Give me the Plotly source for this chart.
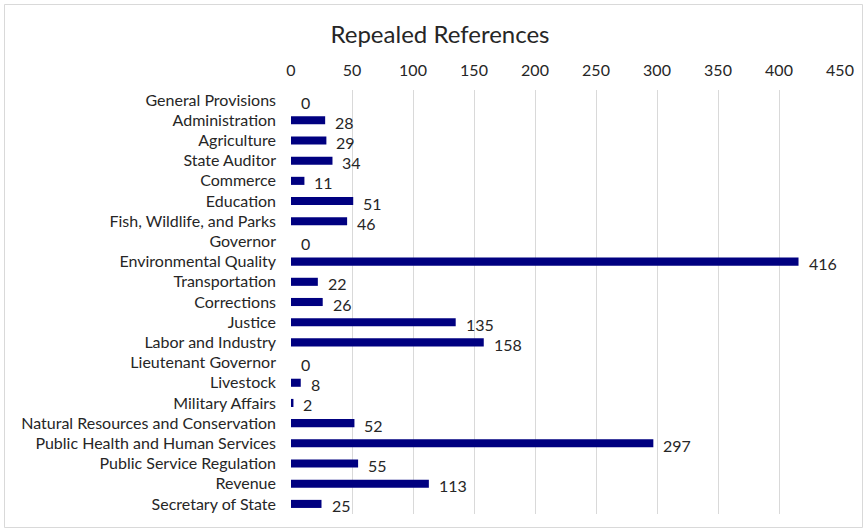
import plotly.graph_objects as go

categories = ["General Provisions", "Administration", "Agriculture", "State Auditor", "Commerce",
              "Education", "Fish, Wildlife, and Parks", "Governor", "Environmental Quality",
              "Transportation", "Corrections", "Justice", "Labor and Industry",
              "Lieutenant Governor", "Livestock", "Military Affairs",
              "Natural Resources and Conservation", "Public Health and Human Services",
              "Public Service Regulation", "Revenue", "Secretary of State"]
values = [0, 28, 29, 34, 11, 51, 46, 0, 416, 22, 26, 135, 158, 0, 8, 2, 52, 297, 55, 113, 25]
tick_vals = [0, 50, 100, 150, 200, 250, 300, 350, 400, 450]

W, H = 867, 532
L, R, T, B = 291, 27, 90, 18
FONT = "Lato"
TXT = "#262626"

fig = go.Figure(go.Bar(
    x=values, y=categories, orientation="h",
    marker=dict(color="#000080", line=dict(width=0)),
    width=0.4, hoverinfo="x+y",
))

for c, v in zip(categories, values):
    fig.add_annotation(x=v, y=c, text=str(v), showarrow=False, xanchor="left",
                       xshift=8, yshift=-2, font=dict(family=FONT, size=16, color=TXT))

pw, ph = W - L - R, H - T - B
fig.add_shape(type="rect", xref="paper", yref="paper",
              x0=(4.5 - L) / pw, x1=(W - 4.5 - L) / pw,
              y0=-(H - 4.5 - T - ph) / ph, y1=1 + (T - 4.5) / ph,
              line=dict(color="#d9d9d9", width=1), fillcolor="rgba(0,0,0,0)", layer="below")

fig.update_layout(
    width=W, height=H,
    margin=dict(l=L, r=R, t=T, b=B),
    paper_bgcolor="white", plot_bgcolor="white",
    title=dict(text="Repealed References", x=440 / W, xanchor="center",
               y=1 - 35 / H, yanchor="middle", font=dict(family=FONT, size=24, color=TXT)),
    xaxis=dict(side="top", range=[0, 450], tickvals=tick_vals, showgrid=True,
               gridcolor="#d9d9d9", gridwidth=1, zeroline=False, showline=False,
               ticks="", ticklen=0, ticklabelstandoff=10,
               tickfont=dict(family=FONT, size=16, color=TXT),
               fixedrange=True),
    yaxis=dict(showgrid=False, zeroline=False, showline=False,
               ticks="", ticklabelstandoff=14, tickfont=dict(family=FONT, size=16, color=TXT),
               autorange=False, range=[20.5, -0.5]),
    showlegend=False,
)

fig.write_html("out.html", config={"displayModeBar": False},
               post_script="document.body.style.margin='0';document.body.style.overflow='hidden';")
